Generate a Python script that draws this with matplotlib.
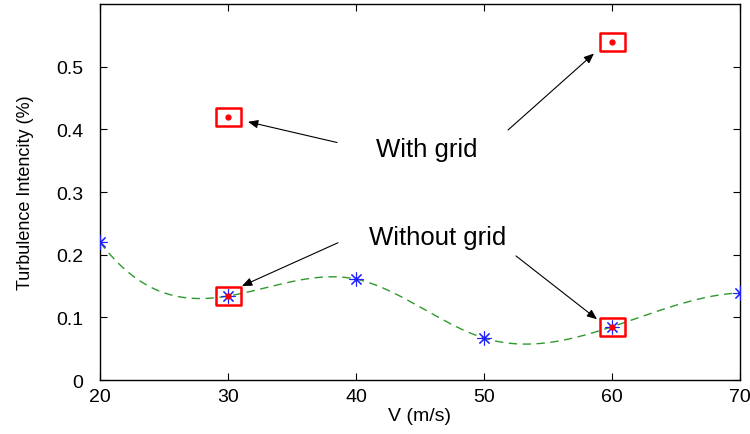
import numpy as np
import matplotlib
matplotlib.use("Agg")
import matplotlib.pyplot as plt
from matplotlib.path import Path

plt.rcParams['font.family'] = ['Liberation Sans', 'DejaVu Sans']

# Data
v_without = [20, 30, 40, 50, 60, 70]
ti_without = [0.22, 0.134, 0.161, 0.067, 0.085, 0.139]
v_with = [30, 60]
ti_with = [0.42, 0.54]
v_mark = [30, 60]
ti_mark = [0.134, 0.085]
x_ticks = [20, 30, 40, 50, 60, 70]
y_ticks = [0, 0.1, 0.2, 0.3, 0.4, 0.5]
y_ticklabels = ['0', '0.1', '0.2', '0.3', '0.4', '0.5']


def spline_notaknot(x, y, xs):
    x = np.asarray(x, float); y = np.asarray(y, float)
    n = len(x); h = np.diff(x)
    A = np.zeros((n, n)); b = np.zeros(n)
    for i in range(1, n - 1):
        A[i, i - 1] = h[i - 1]
        A[i, i] = 2 * (h[i - 1] + h[i])
        A[i, i + 1] = h[i]
        b[i] = 6 * ((y[i + 1] - y[i]) / h[i] - (y[i] - y[i - 1]) / h[i - 1])
    A[0, 0] = h[1]; A[0, 1] = -(h[0] + h[1]); A[0, 2] = h[0]
    A[-1, -3] = h[-1]; A[-1, -2] = -(h[-2] + h[-1]); A[-1, -1] = h[-2]
    M = np.linalg.solve(A, b)
    out = np.empty_like(xs)
    for k, xv in enumerate(xs):
        i = min(max(np.searchsorted(x, xv) - 1, 0), n - 2)
        hi = h[i]
        a = x[i + 1] - xv; c = xv - x[i]
        out[k] = (M[i] * a**3 + M[i + 1] * c**3) / (6 * hi) \
            + (y[i] / hi - M[i] * hi / 6) * a + (y[i + 1] / hi - M[i + 1] * hi / 6) * c
    return out


fig = plt.figure(figsize=(7.5, 4.35), dpi=100)
ax = fig.add_axes([0.1333, 0.1241, 0.8534, 0.8644])

xs = np.linspace(min(v_without), max(v_without), 400)
ax.plot(xs, spline_notaknot(v_without, ti_without, xs), linestyle=(0, (6, 4)),
        color='#2e9a2e', lw=1.0, zorder=2)

rect = Path([(-1, -0.75), (1, -0.75), (1, 0.75), (-1, 0.75), (-1, -0.75)],
            [Path.MOVETO, Path.LINETO, Path.LINETO, Path.LINETO, Path.CLOSEPOLY])
allx = v_with + v_mark
ally = ti_with + ti_mark
ax.plot(allx, ally, linestyle='none', marker=rect, markersize=18,
        markerfacecolor='none', markeredgecolor='#ff0000', markeredgewidth=1.8, zorder=3)
ax.plot(v_without, ti_without, linestyle='none', marker=(8, 2, 0), markersize=10,
        color='#2020ff', markeredgewidth=0.8, zorder=4)
ax.plot(allx, ally, linestyle='none', marker='o', markersize=3.5,
        color='#ff0000', zorder=5)

arrow = dict(arrowstyle='-|>,head_length=0.6,head_width=0.25', color='black', lw=0.8,
             shrinkA=0, shrinkB=0)
ax.annotate('', xy=(31.56, 0.412), xytext=(38.52, 0.379), arrowprops=arrow)
ax.annotate('', xy=(58.59, 0.521), xytext=(51.88, 0.399), arrowprops=arrow)
ax.annotate('', xy=(31.09, 0.150), xytext=(38.59, 0.219), arrowprops=arrow)
ax.annotate('', xy=(58.83, 0.097), xytext=(52.5, 0.198), arrowprops=arrow)

ax.text(45.5, 0.369, 'With grid', fontsize=18.5, ha='center', va='center')
ax.text(46.4, 0.228, 'Without grid', fontsize=18.5, ha='center', va='center')

ax.set_xlim(20, 70)
ax.set_ylim(0, 0.6)
ax.set_xticks(x_ticks)
ax.set_xticklabels([str(t) for t in x_ticks])
ax.set_yticks(y_ticks)
ax.set_yticklabels(y_ticklabels)
ax.tick_params(direction='in', top=True, right=True, length=5, width=0.8,
               labelsize=14)
ax.tick_params(axis='x', pad=6)
ax.tick_params(axis='y', pad=12)
for s in ax.spines.values():
    s.set_linewidth(1.0)
ax.set_xlabel('V (m/s)', fontsize=14, labelpad=1)
ax.set_ylabel('Turbulence Intencity (%)', fontsize=13, labelpad=16)

fig.savefig('out.png', dpi=100)
